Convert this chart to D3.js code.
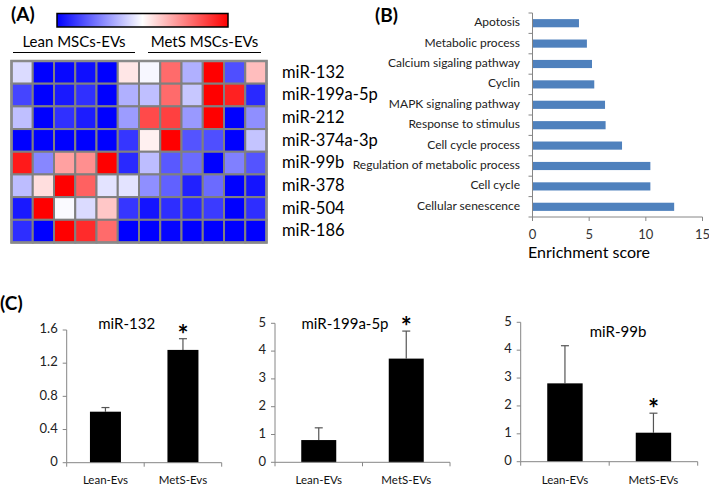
<!DOCTYPE html>
<html><head><meta charset="utf-8">
<script src="https://cdnjs.cloudflare.com/ajax/libs/d3/7.8.5/d3.min.js"></script>
<style>body{margin:0;background:#fff}svg{display:block;font-family:Lato,"Open Sans",sans-serif}</style>
</head><body><svg id="c" width="709" height="487"></svg>
<script>
// ---------- DATA ----------
const heatRows = ["miR-132","miR-199a-5p","miR-212","miR-374a-3p","miR-99b","miR-378","miR-504","miR-186"];
const heatCols = ["L1","L2","L3","L4","L5","L6","M1","M2","M3","M4","M5","M6"];
const heatGroups = ["Lean MSCs-EVs","MetS MSCs-EVs"];
const heatValues = [
  [-0.14,-1,-0.97,-0.94,-1, 0.10,-0.03, 0.58,-0.31, 1,-0.69, 0.26],
  [-0.73,-1,-0.90,-0.81,-1,-0.31,-0.25, 0.58,-0.22, 1, 0.87,-0.84],
  [-0.25,-1,-0.81,-0.89,-1,-0.39, 0.71, 0.75,-0.40, 1,-1,-0.44],
  [-1,-1,-1,-1,-1,-0.79, 0.06, 1,-0.67,-0.69,-1,-0.23],
  [ 0.90,-0.47, 0.37, 0.44, 1,-0.84,-0.26,-0.65,-0.58,-1,-0.50,-0.67],
  [-0.26, 0.13, 1, 0.62,-0.11,-0.11,-0.44,-0.62,-0.87,-0.58,-1,-0.92],
  [-0.90, 1,-0.02,-0.14, 0.22,-0.79,-0.92,-0.82,-0.84,-0.77,-1,-0.82],
  [-0.82,-1, 1, 0.83, 0.58,-1,-1,-0.98,-1,-1,-1,-1]
];
const enrichCategories = ["Apotosis","Metabolic process","Calcium sigaling pathway","Cyclin","MAPK signaling pathway","Response to stimulus","Cell cycle process","Regulation of metabolic process","Cell cycle","Cellular senescence"];
const enrichScores = [4.1, 4.8, 5.25, 5.45, 6.4, 6.45, 7.9, 10.4, 10.4, 12.5];
const enrichTicks = [0,5,10,15];
const qpcrTitles = ["miR-132","miR-199a-5p","miR-99b"];
const qpcrGroups = [["Lean-Evs","MetS-Evs"],["Lean-EVs","MetS-EVs"],["Lean-EVs","MetS-EVs"]];
const qpcrMeans = [[0.615,1.36],[0.80,3.73],[2.81,1.04]];
const qpcrErrors = [[0.05,0.135],[0.44,0.99],[1.35,0.70]];
const qpcrSignificant = [[false,true],[false,true],[false,true]];
const qpcrTicks = [[0,0.4,0.8,1.2,1.6],[0,1,2,3,4,5],[0,1,2,3,4,5]];
const qpcrTickLabels = [["0","0.4","0.8","1.2","1.6"],["0","1","2","3","4","5"],["0","1","2","3","4","5"]];

// ---------- DRAW ----------
const svg = d3.select("#c");
const axisGray = "#868686";

// Panel labels
svg.append("text").attr("x",11).attr("y",21).attr("font-size",19).attr("font-weight","bold").text("(A)");
svg.append("text").attr("x",375).attr("y",22).attr("font-size",19).attr("font-weight","bold").text("(B)");
svg.append("text").attr("x",0).attr("y",310).attr("font-size",19).attr("font-weight","bold").text("(C)");

// ---- Panel A heatmap ----
const color = d3.scaleLinear().domain([-1,0,1]).range(["#0000ff","#ffffff","#ff0000"]);
const defs = svg.append("defs");
const grad = defs.append("linearGradient").attr("id","cbar");
[-1,0,1].forEach((v,i)=>grad.append("stop").attr("offset",(i*50)+"%").attr("stop-color",color(v)));
svg.append("rect").attr("x",57).attr("y",13.5).attr("width",171).attr("height",13.5)
  .attr("fill","url(#cbar)").attr("stroke","#000").attr("stroke-width",1.5);

const hx = d3.scaleBand().domain(heatCols).range([11.5,266.5]);
const hy = d3.scaleBand().domain(heatRows).range([61,242.5]);
const hg = svg.append("g");
heatValues.forEach((row,ri)=>row.forEach((v,ci)=>{
  hg.append("rect").attr("x",hx(heatCols[ci])).attr("y",hy(heatRows[ri]))
    .attr("width",hx.bandwidth()).attr("height",hy.bandwidth())
    .attr("fill",color(v)).attr("stroke","#808080").attr("stroke-width",2);
}));
hg.append("rect").attr("x",11.5).attr("y",61).attr("width",255).attr("height",181.5)
  .attr("fill","none").attr("stroke","#8a8a8a").attr("stroke-width",2.5);
heatRows.forEach(r=>{
  svg.append("text").attr("x",282).attr("y",hy(r)+hy.bandwidth()/2+1).attr("dominant-baseline","middle")
    .attr("font-size",16.5).text(r);
});
// group labels
const gx = [[13,135],[148,261]];
heatGroups.forEach((g,i)=>{
  svg.append("text").attr("x",(gx[i][0]+gx[i][1])/2).attr("y",47).attr("text-anchor","middle")
    .attr("font-size",15).text(g);
  svg.append("line").attr("x1",gx[i][0]).attr("x2",gx[i][1]).attr("y1",52.5).attr("y2",52.5)
    .attr("stroke","#000").attr("stroke-width",1);
});

// ---- Panel B ----
const bx = d3.scaleLinear().domain([0,15]).range([532.5,702.5]);
const by = d3.scaleBand().domain(enrichCategories).range([13,217]).paddingInner(0.6).paddingOuter(0.3);
const bg = svg.append("g");
enrichCategories.forEach((c,i)=>{
  bg.append("rect").attr("x",bx(0)).attr("y",by(c)).attr("width",bx(enrichScores[i])-bx(0))
    .attr("height",by.bandwidth()).attr("fill","#4f81bd");
  bg.append("text").attr("x",520).attr("y",by(c)+by.bandwidth()/2).attr("dominant-baseline","middle")
    .attr("text-anchor","end").attr("font-size",12).attr("fill","#222").text(c);
});
bg.append("line").attr("x1",bx(0)).attr("x2",bx(0)).attr("y1",13).attr("y2",217).attr("stroke",axisGray);
for(let i=0;i<=enrichCategories.length;i++){
  const yy = 13 + i*(204/enrichCategories.length);
  bg.append("line").attr("x1",bx(0)-4).attr("x2",bx(0)).attr("y1",yy).attr("y2",yy).attr("stroke",axisGray);
}
bg.append("line").attr("x1",bx(0)).attr("x2",bx(15)).attr("y1",217).attr("y2",217).attr("stroke",axisGray);
enrichTicks.forEach(t=>{
  bg.append("line").attr("x1",bx(t)).attr("x2",bx(t)).attr("y1",217).attr("y2",221).attr("stroke",axisGray);
  bg.append("text").attr("x",bx(t)).attr("y",236).attr("text-anchor","middle").attr("font-size",13)
    .attr("fill","#333").attr("dominant-baseline","middle").text(t);
});
bg.append("text").attr("x",589).attr("y",254).attr("text-anchor","middle").attr("dominant-baseline","middle")
  .attr("font-size",16).text("Enrichment score");

// ---- Panel C ----
const cLayout = [
  {x0:66.7,x1:221.7,yb:462.7,yt:330, title:[126.7,325]},
  {x0:275,x1:450,yb:462.3,yt:323.3, title:[345,325]},
  {x0:520.7,x1:697.7,yb:461.7,yt:322.3, title:[618,333]}
];
cLayout.forEach((L,k)=>{
  const g = svg.append("g");
  const ticks = qpcrTicks[k];
  const y = d3.scaleLinear().domain([0,ticks[ticks.length-1]]).range([L.yb,L.yt]);
  const x = d3.scaleBand().domain(qpcrGroups[k]).range([L.x0,L.x1]).paddingInner(0.6).paddingOuter(0.3);
  qpcrGroups[k].forEach((grp,j)=>{
    const m = qpcrMeans[k][j], e = qpcrErrors[k][j];
    const cx = x(grp)+x.bandwidth()/2;
    g.append("line").attr("x1",cx).attr("x2",cx).attr("y1",y(m)).attr("y2",y(m+e)).attr("stroke","#555").attr("stroke-width",1.2);
    g.append("line").attr("x1",cx-4).attr("x2",cx+4).attr("y1",y(m+e)).attr("y2",y(m+e)).attr("stroke","#555").attr("stroke-width",1.2);
    g.append("rect").attr("x",x(grp)).attr("y",y(m)).attr("width",x.bandwidth()).attr("height",y(0)-y(m)).attr("fill","#000");
    g.append("text").attr("x",cx).attr("y",481).attr("text-anchor","middle").attr("dominant-baseline","middle")
      .attr("font-size",11.5).attr("fill","#111").text(grp);
    if(qpcrSignificant[k][j]){
      g.append("text").attr("x",cx).attr("y",y(m+e)+5).attr("text-anchor","middle")
        .attr("font-size",26).attr("font-weight","bold").text("*");
    }
  });
  g.append("line").attr("x1",L.x0).attr("x2",L.x0).attr("y1",L.yt).attr("y2",L.yb).attr("stroke",axisGray);
  g.append("line").attr("x1",L.x0).attr("x2",L.x1).attr("y1",L.yb).attr("y2",L.yb).attr("stroke",axisGray);
  ticks.forEach((t,ti)=>{
    g.append("line").attr("x1",L.x0-4).attr("x2",L.x0).attr("y1",y(t)).attr("y2",y(t)).attr("stroke",axisGray);
    g.append("text").attr("x",L.x0-9).attr("y",y(t)).attr("text-anchor","end").attr("dominant-baseline","middle")
      .attr("font-size",13).attr("fill","#222").text(qpcrTickLabels[k][ti]);
  });
  [L.x0,(L.x0+L.x1)/2,L.x1].forEach(xx=>{
    g.append("line").attr("x1",xx).attr("x2",xx).attr("y1",L.yb).attr("y2",L.yb+4).attr("stroke",axisGray);
  });
  g.append("text").attr("x",L.title[0]).attr("y",L.title[1]).attr("text-anchor","middle").attr("dominant-baseline","middle")
    .attr("font-size",15).text(qpcrTitles[k]);
});
</script></body></html>
